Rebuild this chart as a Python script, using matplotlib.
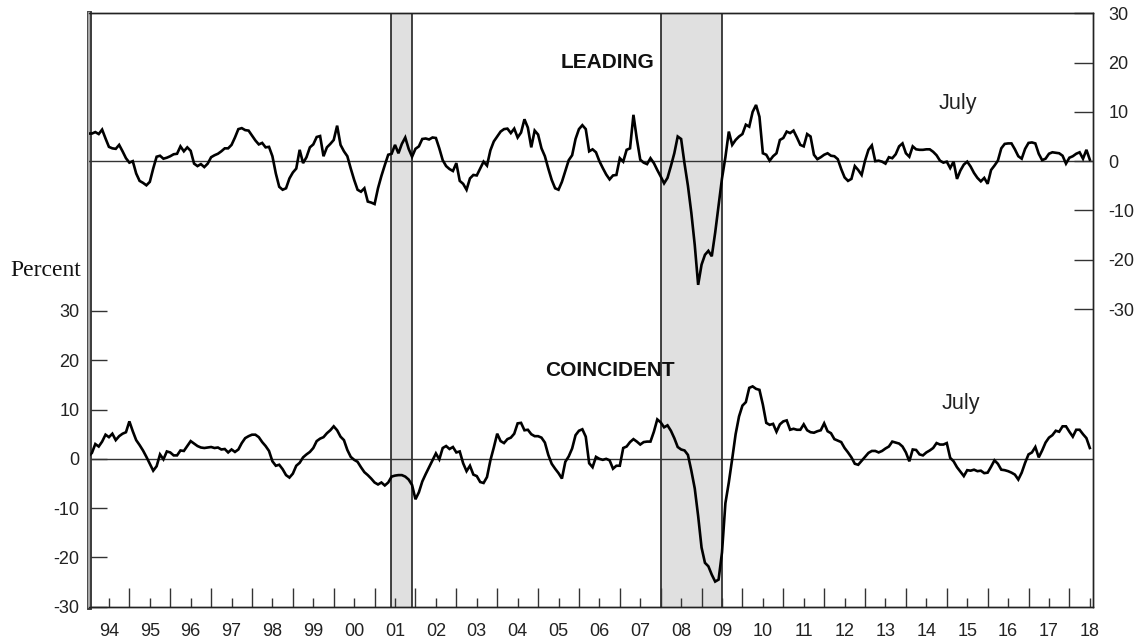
import numpy as np
import matplotlib
matplotlib.use("Agg")
import matplotlib.pyplot as plt
from matplotlib.ticker import FixedLocator, NullFormatter, FixedFormatter

# ---- data (monthly growth rates, %, Jan 1994 .. Jul 2018) ----
start_year = 1994
leading = [
    5.6, 5.6, 5.9, 5.5, 6.4, 4.6, 2.9, 2.6, 2.5, 3.3, 2.0, 0.6,
    -0.3, 0.0, -2.5, -4.0, -4.4, -4.9, -4.2, -1.5, 0.9, 1.1, 0.5, 0.7,
    1.0, 1.4, 1.5, 3.0, 2.0, 2.8, 2.1, -0.5, -1.0, -0.6, -1.2, -0.5,
    0.8, 1.2, 1.5, 2.0, 2.6, 2.6, 3.3, 4.8, 6.5, 6.7, 6.3, 6.2,
    5.2, 4.2, 3.4, 3.7, 2.8, 2.9, 1.0, -2.5, -5.2, -5.8, -5.5, -3.5,
    -2.3, -1.5, 2.3, -0.4, 0.8, 2.8, 3.4, 4.9, 5.1, 1.0, 2.8, 3.5,
    4.3, 7.2, 3.3, 2.0, 1.0, -1.5, -3.8, -5.8, -6.2, -5.5, -8.2, -8.4,
    -8.7, -5.5, -3.0, -0.8, 1.3, 1.5, 3.3, 1.6, 3.5, 4.8, 2.5, 0.9,
    2.5, 3.0, 4.5, 4.6,
    4.4, 4.8, 4.7, 2.6, 0.2, -1.0, -1.6, -2.0, -0.4, -4.0, -4.6, -5.8,
    -3.5, -2.8, -2.9, -1.5, -0.1, -0.9, 2.2, 4.0, 5.0, 6.0, 6.5, 6.6,
    5.7, 6.6, 4.8, 5.8, 8.5, 6.8, 2.8, 6.2, 5.4, 2.6, 1.0, -1.5,
    -3.8, -5.5, -5.8, -4.2, -2.0, 0.2, 1.2, 4.5, 6.5, 7.3, 6.5, 2.0,
    2.4, 1.8, 0.0, -1.4, -2.7, -3.7, -2.9, -2.8, 0.6, -0.1, 2.3, 2.6,
    9.4, 4.5, 0.3, -0.3, -0.6, 0.6, -0.4, -1.8, -3.1, -4.5, -3.4, -1.0,
    1.6, 5.0, 4.5, -0.5, -5.0, -10.5, -17.0, -25.1, -21.0, -19.0, -18.2, -19.3,
    -14.5, -9.0, -3.5, 0.8, 6.0, 3.3, 4.3, 5.0, 5.5, 7.4, 7.0,
    10.0, 11.4, 9.0,
    1.6, 1.3, 0.1, 1.0, 1.6, 4.3, 4.7, 6.0, 5.7, 6.2, 4.8, 3.3,
    3.0, 5.5, 5.0, 1.3, 0.4, 0.8, 1.3, 1.6, 1.1, 1.0, 0.4, -1.6,
    -3.3, -4.0, -3.6, -1.0, -1.8, -2.8, 0.1, 2.3, 3.2, 0.0, 0.1, -0.1,
    -0.5, 0.8, 0.6, 1.4, 3.0, 3.6, 1.6, 0.9, 3.0, 2.4, 2.3, 2.3,
    2.4, 2.4, 1.9, 1.2, 0.1, -0.3, -0.1, -1.4, -0.1, -3.6, -1.9, -0.7,
    -0.1, -1.1, -2.4, -3.4, -4.1, -3.4, -4.6, -1.8, -0.9, 0.1, 2.6, 3.5,
    3.6, 3.6, 2.4, 1.0, 0.5, 2.5, 3.7, 3.8, 3.6, 1.5, 0.2, 0.5,
    1.5, 1.8, 1.7, 1.6, 1.1, -0.5, 0.7, 1.0, 1.5, 1.8, 0.5, 2.3,
    0.3,
]
coincident = [
    0.5, 1.2, 3.0, 2.5, 3.5, 4.9, 4.4, 5.1, 3.8, 4.6, 5.1, 5.4,
    7.6, 5.6, 3.8, 2.8, 1.7, 0.4, -1.0, -2.4, -1.5, 0.9, -0.1, 1.5,
    1.3, 0.7, 0.7, 1.7, 1.6, 2.6, 3.6, 3.1, 2.6, 2.3, 2.2, 2.3,
    2.4, 2.2, 2.3, 1.9, 2.0, 1.3, 1.9, 1.4, 1.9, 3.2, 4.2, 4.6,
    4.9, 4.9, 4.4, 3.4, 2.6, 1.6, -0.5, -1.4, -1.2, -2.1, -3.3, -3.8,
    -3.0, -1.4, -0.8, 0.3, 0.9, 1.4, 2.2, 3.6, 4.1, 4.4, 5.2, 5.8,
    6.6, 5.8, 4.5, 3.8, 1.8, 0.4, -0.2, -0.6, -1.7, -2.7, -3.3, -4.0,
    -4.8, -5.2, -4.8, -5.4, -4.8, -3.6, -3.4, -3.3, -3.3, -3.6, -4.2, -5.3,
    -8.2, -6.8, -4.6, -3.1,
    -1.7, -0.3, 1.1, -0.1, 2.2, 2.6, 2.0, 2.4, 1.3, 1.5, -0.9, -2.5,
    -1.4, -3.2, -3.5, -4.7, -4.9, -3.7, -0.3, 2.3, 5.1, 3.6, 3.2, 4.0,
    4.3, 5.1, 7.2, 7.3, 5.8, 5.9, 5.0, 4.6, 4.6, 4.3, 3.3, 0.8,
    -1.0, -2.0, -2.9, -4.0, -0.6, 0.5, 2.1, 4.8, 5.7, 6.0, 4.5, -0.9,
    -1.7, 0.4, 0.0, -0.2, 0.0, -0.3, -2.0, -1.4, -1.4, 2.2, 2.5, 3.4,
    4.0, 3.5, 2.9, 3.4, 3.5, 3.5, 5.5, 8.0, 7.4, 6.4, 6.8, 5.7,
    4.2, 2.4, 1.9, 1.7, 0.8, -2.4, -6.0, -11.6, -18.0, -21.1, -21.8, -23.5,
    -24.9, -24.5, -19.0, -9.0, -4.8, 0.0, 5.0, 8.6, 10.8, 11.5,
    14.4, 14.7, 14.2, 14.0, 11.0, 7.3, 6.9, 7.1, 5.5, 7.0, 7.6, 7.8,
    5.9, 6.1, 5.9, 5.9, 7.0, 5.8, 5.4, 5.3, 5.6, 5.8, 7.2, 5.6,
    5.2, 4.0, 3.7, 3.4, 2.2, 1.3, 0.3, -1.0, -1.2, -0.4, 0.4, 1.2,
    1.6, 1.6, 1.3, 1.6, 2.1, 2.5, 3.5, 3.3, 3.1, 2.5, 1.3, -0.5,
    1.9, 1.8, 0.9, 0.7, 1.3, 1.7, 2.2, 3.2, 2.9, 2.9, 3.2, 0.2,
    -0.5, -1.7, -2.6, -3.5, -2.3, -2.4, -2.2, -2.5, -2.4, -2.9, -2.8, -1.6,
    -0.3, -1.0, -2.2, -2.3, -2.5, -2.8, -3.2, -4.2, -2.8, -0.8, 0.9, 1.3,
    2.4, 0.3, 1.7, 3.3, 4.3, 4.8, 5.7, 5.5, 6.6, 6.6, 5.5, 4.5,
    5.9, 5.9, 5.0, 4.2, 2.2,
]
recession_start = [2001.39, 2008.00]
recession_end = [2001.92, 2009.51]
year_labels = ["94", "95", "96", "97", "98", "99", "00", "01", "02", "03",
               "04", "05", "06", "07", "08", "09", "10", "11", "12", "13",
               "14", "15", "16", "17", "18"]
left_ticks = [-30, -20, -10, 0, 10, 20, 30]
right_ticks = [-30, -20, -10, 0, 10, 20, 30]

t_lead = start_year + np.arange(len(leading)) / 12.0
t_coin = start_year + np.arange(len(coincident)) / 12.0

# ---- figure ----
W, H = 1134, 640
fig = plt.figure(figsize=(W / 100, H / 100), dpi=100)
L, R, B, T = 88.5 / W, 1093.3 / W, 1 - 606.7 / H, 1 - 13.3 / H
ax = fig.add_axes([L, B, R - L, T - B])
ax2 = ax.twinx()

xmin, xmax = 1994.0, 2018.585
ax.set_xlim(xmin, xmax)
ax.set_ylim(-30, 90.4)
ax2.set_ylim(-90.4, 30)

# recession shading
for s, e in zip(recession_start, recession_end):
    ax.axvspan(s, e, color="#e0e0e0", lw=0, zorder=0)
    ax.axvline(s, color="#222222", lw=1.2, zorder=1)
    ax.axvline(e, color="#222222", lw=1.2, zorder=1)

# zero lines
ax.axhline(0, color="#333333", lw=1.0, zorder=2)
ax2.axhline(0, color="#333333", lw=1.0, zorder=2)

ax.plot(t_coin, coincident, color="black", lw=1.9, zorder=3,
        solid_joinstyle="miter")
ax2.plot(t_lead, leading, color="black", lw=1.9, zorder=3,
         solid_joinstyle="miter")

# left axis
ax.set_yticks(left_ticks)
ax.set_yticklabels([str(v) for v in left_ticks], fontfamily="Liberation Sans",
                   fontsize=13, color="#222222")
ax.tick_params(axis="y", direction="in", length=13, width=1.0, pad=6.5,
               color="#333333")

# right axis
ax2.set_yticks(right_ticks)
ax2.set_yticklabels([str(v) for v in right_ticks], fontfamily="Liberation Sans",
                    fontsize=13, color="#222222")
ax2.tick_params(axis="y", direction="in", length=14, width=1.0, pad=11,
                color="#333333")

# x axis: long ticks at year starts, short labelled ticks mid-year
years = np.arange(1994, 2019)
ax.xaxis.set_major_locator(FixedLocator(years))
ax.xaxis.set_major_formatter(NullFormatter())
ax.xaxis.set_minor_locator(FixedLocator(years + 0.5))
ax.xaxis.set_minor_formatter(FixedFormatter(year_labels))
ax.tick_params(axis="x", which="major", direction="in", length=14, width=1.0,
               color="#333333")
ax.tick_params(axis="x", which="minor", direction="in", length=6.5, width=1.0,
               pad=12, labelsize=13, labelcolor="#222222", color="#333333")
for lab in ax.xaxis.get_minorticklabels():
    lab.set_fontfamily("Liberation Sans")

for a in (ax, ax2):
    for sp in a.spines.values():
        sp.set_color("#222222")
        sp.set_linewidth(1.0)
ax2.spines["left"].set_visible(False)
ax.spines["left"].set_linewidth(3.5)
ax.spines["left"].set_color("#333333")
ax.axvline(xmin, color="#a8a8a8", lw=1.6, zorder=5, clip_on=False)

# annotations
ax2.text(2006.71, 20.1, "LEADING", ha="center", va="center",
         fontfamily="Liberation Sans", fontweight="bold", fontsize=15,
         color="#111111")
ax.text(2006.75, 17.9, "COINCIDENT", ha="center", va="center",
        fontfamily="Liberation Sans", fontweight="bold", fontsize=15,
        color="#111111")
ax2.text(2015.27, 11.6, "July", ha="center", va="center",
         fontfamily="Liberation Sans", fontsize=15.5, color="#222222")
ax.text(2015.35, 11.2, "July", ha="center", va="center",
        fontfamily="Liberation Sans", fontsize=15.5, color="#222222")
fig.text(46 / W, 1 - 271 / H, "Percent", ha="center", va="center",
         fontfamily="Liberation Serif", fontsize=17, color="#111111")

fig.savefig("out.png", dpi=100)
